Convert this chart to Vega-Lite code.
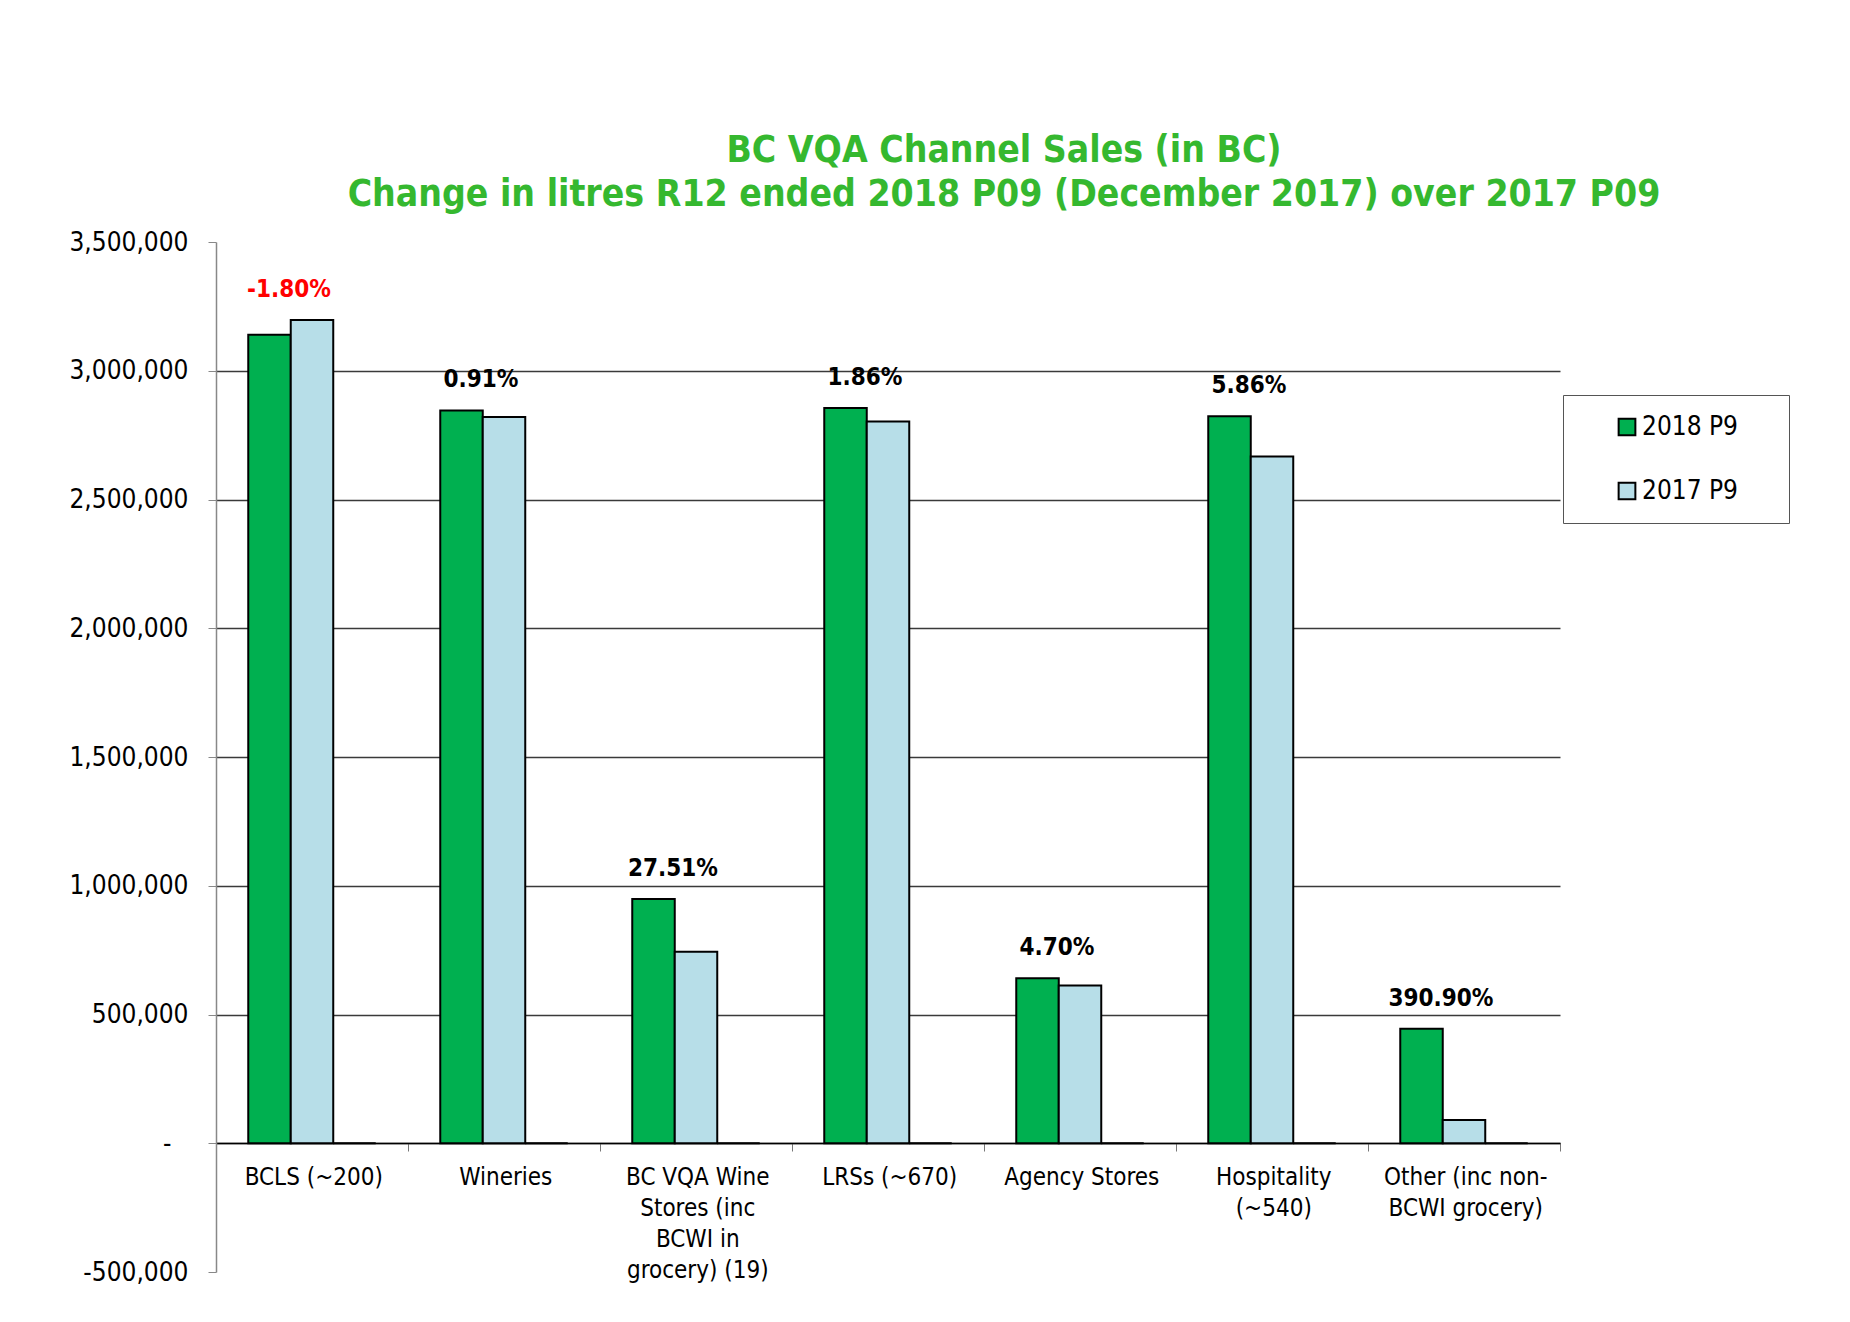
{
  "$schema": "https://vega.github.io/schema/vega-lite/v6.json",
  "width": 1344,
  "height": 1030,
  "autosize": {"type": "none"},
  "padding": {"left": 216, "top": 242, "right": 290, "bottom": 50},
  "background": "white",
  "title": {
    "text": ["BC VQA Channel Sales (in BC)", "Change in litres R12 ended 2018 P09 (December 2017) over 2017 P09"],
    "color": "#35B82F",
    "fontSize": 37,
    "fontWeight": "bold",
    "anchor": "middle",
    "frame": "group",
    "dx": 116,
    "offset": 15,
    "lineHeight": 44
  },
  "datasets": {
    "sales": [
      {"channel": "BCLS (~200)", "series": "2018 P9", "litres": 3140000},
      {"channel": "BCLS (~200)", "series": "2017 P9", "litres": 3197500},
      {"channel": "BCLS (~200)", "series": "Change", "litres": 0},
      {"channel": "Wineries", "series": "2018 P9", "litres": 2846000},
      {"channel": "Wineries", "series": "2017 P9", "litres": 2820300},
      {"channel": "Wineries", "series": "Change", "litres": 0},
      {"channel": "BC VQA Wine Stores (inc BCWI in grocery) (19)", "series": "2018 P9", "litres": 948700},
      {"channel": "BC VQA Wine Stores (inc BCWI in grocery) (19)", "series": "2017 P9", "litres": 744000},
      {"channel": "BC VQA Wine Stores (inc BCWI in grocery) (19)", "series": "Change", "litres": 0},
      {"channel": "LRSs (~670)", "series": "2018 P9", "litres": 2855000},
      {"channel": "LRSs (~670)", "series": "2017 P9", "litres": 2803000},
      {"channel": "LRSs (~670)", "series": "Change", "litres": 0},
      {"channel": "Agency Stores", "series": "2018 P9", "litres": 641000},
      {"channel": "Agency Stores", "series": "2017 P9", "litres": 612200},
      {"channel": "Agency Stores", "series": "Change", "litres": 0},
      {"channel": "Hospitality (~540)", "series": "2018 P9", "litres": 2823000},
      {"channel": "Hospitality (~540)", "series": "2017 P9", "litres": 2666700},
      {"channel": "Hospitality (~540)", "series": "Change", "litres": 0},
      {"channel": "Other (inc non-BCWI grocery)", "series": "2018 P9", "litres": 444500},
      {"channel": "Other (inc non-BCWI grocery)", "series": "2017 P9", "litres": 90500},
      {"channel": "Other (inc non-BCWI grocery)", "series": "Change", "litres": 0}
    ],
    "changes": [
      {"channel": "BCLS (~200)", "change": -0.018},
      {"channel": "Wineries", "change": 0.0091},
      {"channel": "BC VQA Wine Stores (inc BCWI in grocery) (19)", "change": 0.2751},
      {"channel": "LRSs (~670)", "change": 0.0186},
      {"channel": "Agency Stores", "change": 0.047},
      {"channel": "Hospitality (~540)", "change": 0.0586},
      {"channel": "Other (inc non-BCWI grocery)", "change": 3.909}
    ]
  },
  "layer": [
    {
      "data": {"name": "sales"},
      "mark": {"type": "bar", "stroke": "black", "strokeWidth": 2},
      "encoding": {
        "x": {
          "field": "channel",
          "type": "nominal",
          "sort": null,
          "scale": {"paddingInner": 0.336, "paddingOuter": 0.168},
          "axis": {
            "title": null,
            "offset": -129,
            "domainColor": "black",
            "domainWidth": 1.5,
            "bandPosition": 1,
            "tickOffset": 32.26,
            "labelOffset": -31,
            "tickColor": "#777",
            "tickSize": 8,
            "labelAngle": 0,
            "labelFontSize": 24,
            "labelColor": "black",
            "labelPadding": 14,
            "labelLineHeight": 31,
            "labelLimit": 300,
            "labelExpr": "datum.value === 'BC VQA Wine Stores (inc BCWI in grocery) (19)' ? ['BC VQA Wine', 'Stores (inc', 'BCWI in', 'grocery) (19)'] : datum.value === 'Hospitality (~540)' ? ['Hospitality', '(~540)'] : datum.value === 'Other (inc non-BCWI grocery)' ? ['Other (inc non-', 'BCWI grocery)'] : datum.label"
          }
        },
        "xOffset": {"field": "series", "sort": ["2018 P9", "2017 P9", "Change"]},
        "y": {
          "field": "litres",
          "type": "quantitative",
          "scale": {"domain": [-500000, 3500000], "nice": false, "zero": false},
          "axis": {
            "title": null,
            "values": [-500000, 0, 500000, 1000000, 1500000, 2000000, 2500000, 3000000, 3500000],
            "labelExpr": "datum.value === 0 ? '-\u2800' : format(datum.value, ',')",
            "labelFontSize": 26,
            "labelColor": "black",
            "labelPadding": 20,
            "tickSize": 8,
            "tickColor": "#888",
            "domainColor": "#888",
            "domainWidth": 1.5,
            "grid": true,
            "gridColor": "#3a3a3a",
            "gridWidth": 1.5,
            "gridOpacity": {"condition": {"test": "datum.value < 0 || datum.value > 3000000", "value": 0}, "value": 1}
          }
        },
        "color": {
          "field": "series",
          "type": "nominal",
          "scale": {"domain": ["2018 P9", "2017 P9", "Change"], "range": ["#00B050", "#B7DEE8", "#000000"]},
          "legend": {
            "title": null,
            "values": ["2018 P9", "2017 P9"],
            "orient": "none",
            "legendX": 1347,
            "legendY": 153,
            "padding": 19,
            "strokeColor": "#555",
            "fillColor": "white",
            "symbolType": "square",
            "symbolSize": 280,
            "symbolStrokeColor": "black",
            "symbolStrokeWidth": 2,
            "symbolOffset": 32,
            "labelFontSize": 26,
            "labelColor": "black",
            "labelOffset": 2,
            "labelLimit": 400,
            "rowPadding": 38,
            "labelExpr": "datum.label + '\u00a0\u00a0\u2800'"
          }
        }
      }
    },
    {
      "data": {"name": "sales"},
      "transform": [
        {"joinaggregate": [{"op": "max", "field": "litres", "as": "top"}], "groupby": ["channel"]},
        {"filter": "datum.series === '2018 P9'"},
        {"lookup": "channel", "from": {"data": {"name": "changes"}, "key": "channel", "fields": ["change"]}}
      ],
      "mark": {"type": "text", "fontWeight": "bold", "fontSize": 24, "baseline": "bottom", "dy": -18, "dx": -23},
      "encoding": {
        "x": {"field": "channel", "type": "nominal", "sort": null},
        "y": {"field": "top", "type": "quantitative"},
        "text": {"field": "change", "type": "quantitative", "format": ".2%"},
        "color": {"condition": {"test": "datum.change < 0", "value": "#FF0000"}, "value": "black"}
      }
    }
  ],
  "config": {
    "font": "DejaVu Sans Condensed, Liberation Sans Narrow, sans-serif",
    "view": {"stroke": null},
    "locale": {
      "number": {"decimal": ".", "thousands": ",", "grouping": [3], "currency": ["$", ""], "minus": "-"}
    }
  }
}
